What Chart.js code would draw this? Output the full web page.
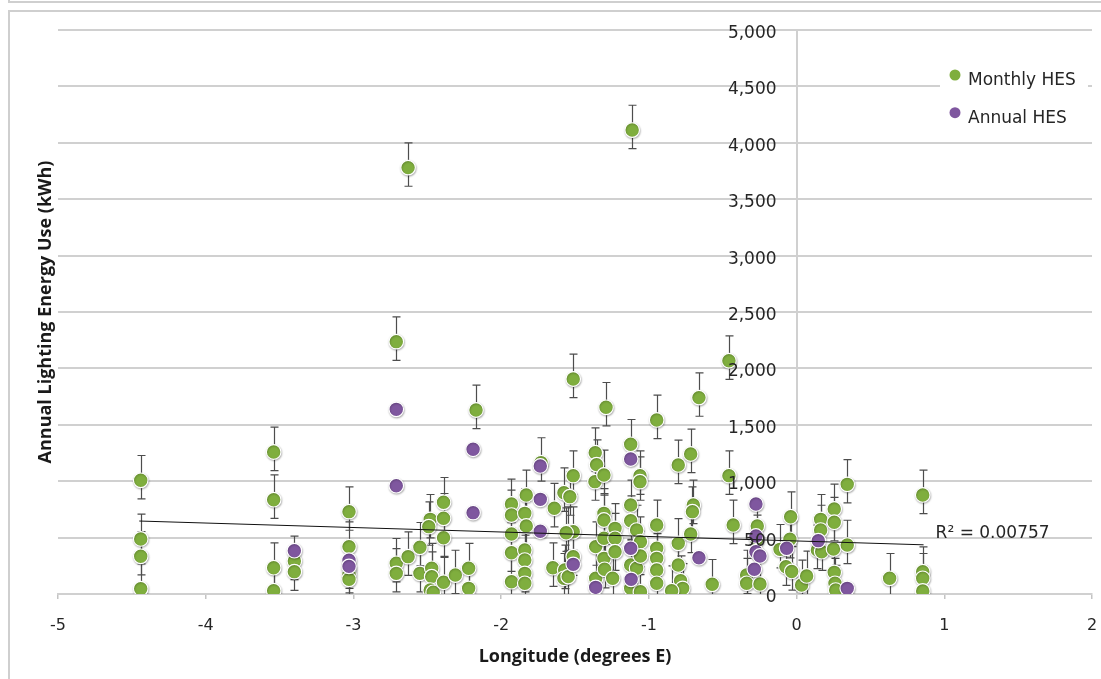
<!DOCTYPE html>
<html>
<head>
<meta charset="utf-8">
<title>Annual Lighting Energy Use by Longitude</title>
<script src="https://cdn.jsdelivr.net/npm/chart.js@4.4.1/dist/chart.umd.min.js"></script>
<style>
  html, body { margin: 0; padding: 0; background: #fff; width: 1101px; height: 679px; overflow: hidden; }
  #topRule { position: absolute; left: 8px; top: 0; width: 1093px; height: 1px; border-left: 2px solid #cfcfcf; border-bottom: 2px solid #cfcfcf; }
  #frame { position: absolute; left: 8px; top: 10px; width: 1093px; height: 669px; border-left: 2px solid #cfcfcf; border-top: 2px solid #cfcfcf; box-sizing: border-box; }
  #chart { position: absolute; left: 0; top: 0; }
</style>
</head>
<body>
<div id="topRule"></div>
<div id="frame"></div>
<canvas id="chart" width="1101" height="679"></canvas>
<script>
// Monthly HES households: longitude (degrees E) and annual lighting use (kWh)
const monthlyLon = [
  -4.44, -4.44, -4.44, -4.44,
  -3.54, -3.54, -3.54, -3.54,
  -3.40, -3.40,
  -3.03, -3.03, -3.03, -3.03, -3.03,
  -2.71, -2.71, -2.71,
  -2.63, -2.63,
  -2.55, -2.55,
  -2.48, -2.49, -2.47, -2.47, -2.48, -2.46,
  -2.39, -2.39, -2.39, -2.39,
  -2.31, -2.22, -2.22, -2.17,
  -1.93, -1.93, -1.93, -1.93, -1.93,
  -1.83, -1.84, -1.83, -1.84, -1.84, -1.84, -1.84,
  -1.73,
  -1.64, -1.65,
  -1.575, -1.57, -1.575,
  -1.535, -1.546, -1.546,
  -1.512, -1.512, -1.512, -1.56, -1.512,
  -1.363, -1.354, -1.365, -1.36, -1.36,
  -1.29, -1.304, -1.304, -1.304, -1.304, -1.304, -1.30,
  -1.229, -1.229, -1.229, -1.245,
  -1.113, -1.123, -1.123, -1.123, -1.123, -1.123,
  -1.083, -1.083,
  -1.06, -1.06, -1.057, -1.057, -1.057,
  -0.947, -0.947, -0.947, -0.947, -0.947, -0.947,
  -0.801, -0.801, -0.801, -0.785, -0.771, -0.846,
  -0.717, -0.699, -0.705, -0.717,
  -0.661, -0.571,
  -0.458, -0.458, -0.429,
  -0.338, -0.338,
  -0.266, -0.27, -0.248,
  -0.04, -0.045, -0.112, -0.072, -0.033,
  0.034, 0.068,
  0.163, 0.163, 0.141, 0.17,
  0.255, 0.255, 0.25, 0.255, 0.26, 0.265,
  0.343, 0.343,
  0.63,
  0.854, 0.854, 0.854, 0.854
];
const monthlyKWh = [
  1008, 488, 334, 47,
  1259, 836, 233, 30,
  293, 198,
  730, 420, 215, 175, 130,
  2237, 272, 183,
  3780, 331,
  414, 183,
  662, 597, 228, 154, 35, 15,
  813, 671, 499, 104,
  168, 228, 50, 1631,
  798, 700, 532, 366, 109,
  878, 715, 603, 390, 301, 183, 95,
  1165,
  760, 233,
  898, 213, 139,
  863, 552, 154,
  1906, 1049, 552, 543, 331,
  1253, 1147, 996, 420, 139,
  1655, 1055, 715, 656, 494, 316, 219,
  582, 494, 375, 139,
  4113, 1327, 789, 650, 257, 50,
  567, 228,
  1049, 996, 464, 337, 20,
  1543, 612, 405, 316, 213, 95,
  1144, 449, 257, 118, 50, 29,
  1241, 789, 730, 532,
  1741, 86,
  2068, 1049, 612,
  168, 95,
  603, 480, 89,
  685, 485, 396, 242, 200,
  80, 160,
  662, 567, 390, 375,
  754, 636, 399, 192, 95, 35,
  972, 434,
  139,
  878, 198, 139, 27
];
// Error bar extent on the monthly estimates (kWh above / below)
const monthlyErrPlus = 220;
const monthlyErrMinus = 165;

// Annual HES households
const annualLon = [
  -3.40, -3.03, -3.03, -2.71, -2.71, -2.19, -2.19,
  -1.735, -1.735, -1.735, -1.512, -1.36,
  -1.123, -1.123, -1.12, -0.661,
  -0.275, -0.275, -0.275, -0.248, -0.286,
  -0.067, 0.147, 0.343
];
const annualKWh = [
  384, 300, 245, 1637, 960, 1283, 721,
  1135, 839, 556, 263, 59,
  1197, 405, 130, 322,
  798, 514, 375, 337, 219,
  405, 473, 50
];

// Linear trend line end points and its fit statistic
const trendLon = [-4.45, 0.86];
const trendKWh = [647, 436];
const trendR2 = '0.00757';

const seriesNames = ['Monthly HES', 'Annual HES'];
const xTickRange = [-5, 2];
const yTickRange = [0, 5000];
const yTickStep = 500;

const GREEN = '#7fae3e';
const PURPLE = '#7f579f';
const TEXT = '#262626';
const GRID = '#d0d0d0';

// Vertical error bars with caps for the monthly series
const errorBars = {
  id: 'errorBars',
  beforeDatasetsDraw(chart) {
    const { ctx, chartArea, scales: { x, y } } = chart;
    ctx.save();
    ctx.beginPath();
    ctx.rect(chartArea.left, chartArea.top, chartArea.right - chartArea.left, chartArea.bottom - chartArea.top);
    ctx.clip();
    ctx.strokeStyle = '#4d4d4d';
    ctx.lineWidth = 1.2;
    const cap = 4;
    monthlyLon.forEach((lon, i) => {
      const px = Math.round(x.getPixelForValue(lon)) + 0.5;
      const top = y.getPixelForValue(monthlyKWh[i] + monthlyErrPlus);
      const bot = y.getPixelForValue(monthlyKWh[i] - monthlyErrMinus);
      ctx.beginPath();
      ctx.moveTo(px, top); ctx.lineTo(px, bot);
      ctx.moveTo(px - cap, top); ctx.lineTo(px + cap, top);
      ctx.moveTo(px - cap, bot); ctx.lineTo(px + cap, bot);
      ctx.stroke();
    });
    ctx.restore();
  }
};

// Soft drop shadow under the round markers
const markerShadow = {
  id: 'markerShadow',
  beforeDatasetDraw(chart, args) {
    if (!chart.data.datasets[args.index].markerShadow) return;
    const ctx = chart.ctx;
    ctx.save();
    ctx.shadowColor = 'rgba(0,0,0,0.30)';
    ctx.shadowBlur = 2;
    ctx.shadowOffsetX = 0.5;
    ctx.shadowOffsetY = 1;
  },
  afterDatasetDraw(chart, args) {
    if (!chart.data.datasets[args.index].markerShadow) return;
    chart.ctx.restore();
  }
};

// Axis labels, titles, legend and the R² note
const annotations = {
  id: 'annotations',
  afterDraw(chart) {
    const { ctx, chartArea, scales: { x, y } } = chart;
    const axisX = x.getPixelForValue(0);
    ctx.save();
    ctx.fillStyle = TEXT;

    // y tick labels sit left of the vertical axis at x = 0
    ctx.font = '17px "DejaVu Sans"';
    ctx.textAlign = 'right';
    ctx.textBaseline = 'middle';
    y.ticks.forEach(t => {
      ctx.fillText(t.value.toLocaleString('en-US'), axisX - 20, y.getPixelForValue(t.value) + 3.5);
    });

    // axis titles
    ctx.fillStyle = '#1a1a1a';
    ctx.font = 'bold 18px "Open Sans"';
    ctx.textAlign = 'center';
    ctx.textBaseline = 'alphabetic';
    ctx.fillText('Longitude (degrees E)', (chartArea.left + chartArea.right) / 2, chartArea.bottom + 67.5);
    ctx.save();
    ctx.translate(chartArea.left - 7, (chartArea.top + chartArea.bottom) / 2);
    ctx.rotate(-Math.PI / 2);
    ctx.fillText('Annual Lighting Energy Use (kWh)', 0, 0);
    ctx.restore();

    // R² beside the end of the trend line
    ctx.fillStyle = TEXT;
    ctx.font = '17px "DejaVu Sans"';
    ctx.textAlign = 'left';
    ctx.fillText('R\u00B2 = ' + trendR2,
      x.getPixelForValue(trendLon[1]) + 12,
      y.getPixelForValue(trendKWh[1]) - 6.5);

    // legend box in the upper right of the plot
    const lx = chartArea.right - 152, ly = chartArea.top + 22;
    ctx.fillStyle = '#ffffff';
    ctx.fillRect(lx, ly, 148, 84);
    const colors = [GREEN, PURPLE];
    seriesNames.forEach((name, i) => {
      const cy = ly + 23 + i * 37.7;
      ctx.beginPath();
      ctx.arc(lx + 15, cy, 5.5, 0, Math.PI * 2);
      ctx.fillStyle = colors[i];
      ctx.fill();
      ctx.fillStyle = TEXT;
      ctx.fillText(name, lx + 28, cy + 10);
    });
    ctx.restore();
  }
};

const toPoints = (xs, ys) => xs.map((v, i) => ({ x: v, y: ys[i] }));

new Chart(document.getElementById('chart'), {
  type: 'scatter',
  data: {
    datasets: [
      {
        label: 'Linear trend',
        data: toPoints(trendLon, trendKWh),
        showLine: true,
        borderColor: '#111',
        borderWidth: 1,
        pointRadius: 0,
        order: 0
      },
      {
        label: seriesNames[1],
        data: toPoints(annualLon, annualKWh),
        backgroundColor: PURPLE,
        borderColor: '#ffffff',
        borderWidth: 1.2,
        pointRadius: 7.3,
        markerShadow: true,
        order: 1
      },
      {
        label: seriesNames[0],
        data: toPoints(monthlyLon, monthlyKWh),
        backgroundColor: GREEN,
        borderColor: '#ffffff',
        borderWidth: 1.2,
        pointRadius: 7.3,
        markerShadow: true,
        order: 2
      }
    ]
  },
  options: {
    responsive: false,
    animation: false,
    devicePixelRatio: 1,
    layout: { padding: { left: 58, right: 9, top: 30, bottom: 0 } },
    plugins: { legend: { display: false }, tooltip: { enabled: false } },
    scales: {
      x: {
        type: 'linear',
        min: xTickRange[0],
        max: xTickRange[1],
        ticks: { stepSize: 1, color: TEXT, font: { family: 'DejaVu Sans', size: 16 }, padding: 17 },
        grid: { drawOnChartArea: false, drawTicks: true, tickLength: 5, color: '#c4c4c4', lineWidth: 1.5 },
        border: { display: true, color: GRID, width: 2 },
        afterFit(scale) {
          scale.height = 85;
          scale.paddingLeft = 0;
          scale.paddingRight = 0;
        }
      },
      y: {
        type: 'linear',
        min: yTickRange[0],
        max: yTickRange[1],
        position: { x: 0 },
        ticks: { stepSize: yTickStep, display: false },
        grid: { color: GRID, lineWidth: 2, drawTicks: true, tickLength: 7 },
        border: { display: true, color: GRID, width: 2 },
        afterFit(scale) { scale.width = 0; }
      }
    }
  },
  plugins: [errorBars, markerShadow, annotations]
});
</script>
</body>
</html>
